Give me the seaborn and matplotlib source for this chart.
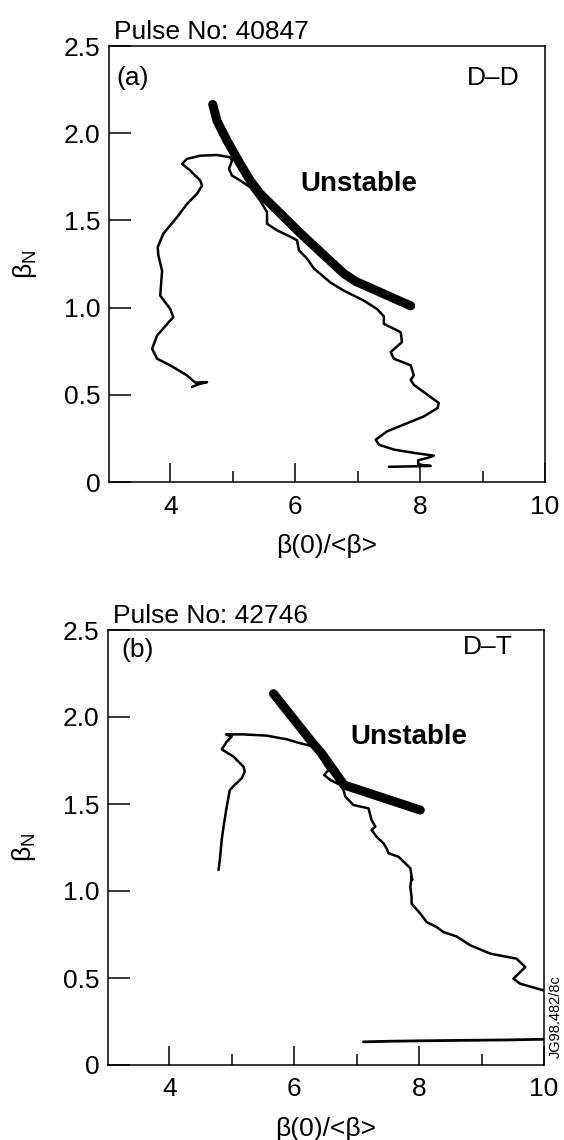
import matplotlib
matplotlib.use("Agg")
import matplotlib.pyplot as plt
import seaborn as sns
import pandas as pd
from matplotlib.ticker import FixedLocator, FixedFormatter

# ---------------- data ----------------
# Panel (a) Pulse 40847, D-D : trajectory beta(0)/<beta> vs beta_N
a_traj_x = [7.50, 8.17, 7.97, 7.97, 8.12, 8.22, 7.90, 7.58, 7.34, 7.29, 7.47, 7.80, 8.06, 8.28,
            8.30, 8.12, 7.90, 7.85, 7.90, 7.85, 7.58, 7.53, 7.71, 7.69, 7.42, 7.42, 7.31, 7.10,
            6.78, 6.56, 6.46, 6.30, 6.19, 6.06, 6.03, 5.93, 5.71, 5.55, 5.55, 5.44, 5.28, 5.12,
            4.99, 4.94, 4.99, 4.96, 4.75, 4.48, 4.27, 4.19, 4.32, 4.48, 4.51, 4.43, 4.27, 4.11,
            3.89, 3.80, 3.81, 3.87, 3.84, 4.00, 4.05, 4.00, 3.79, 3.71, 3.79, 4.00, 4.27, 4.40,
            4.59, 4.45, 4.35]
a_traj_y = [0.087, 0.092, 0.100, 0.125, 0.138, 0.151, 0.167, 0.186, 0.214, 0.243, 0.290, 0.338,
            0.376, 0.424, 0.453, 0.500, 0.557, 0.586, 0.611, 0.669, 0.707, 0.745, 0.802, 0.859,
            0.907, 0.950, 0.992, 1.040, 1.097, 1.145, 1.176, 1.224, 1.281, 1.329, 1.386, 1.405,
            1.443, 1.481, 1.547, 1.614, 1.690, 1.729, 1.757, 1.795, 1.843, 1.862, 1.875, 1.871,
            1.853, 1.824, 1.786, 1.729, 1.700, 1.653, 1.595, 1.519, 1.424, 1.347, 1.300, 1.211,
            1.069, 0.992, 0.945, 0.926, 0.840, 0.764, 0.707, 0.669, 0.611, 0.570, 0.573, 0.560,
            0.545]
a_limit_x = [4.68, 4.75, 4.91, 5.12, 5.28, 5.44, 5.66, 6.09, 6.78, 6.97, 7.85]
a_limit_y = [2.165, 2.070, 1.957, 1.824, 1.729, 1.653, 1.576, 1.424, 1.195, 1.150, 1.010]

# Panel (b) Pulse 42746, D-T
b_traj_x = [4.79, 4.81, 4.84, 4.87, 4.92, 4.97, 5.03, 5.16, 5.21, 5.19, 5.03, 4.84, 4.92, 5.00,
            4.91, 5.19, 5.56, 5.88, 6.10, 6.31, 6.55, 6.48, 6.58, 6.74, 6.79, 6.82, 6.95, 7.19,
            7.24, 7.30, 7.24, 7.32, 7.43, 7.48, 7.51, 7.67, 7.78, 7.86, 7.89, 7.88, 7.86, 7.88,
            7.88, 8.02, 8.12, 8.28, 8.39, 8.60, 8.82, 9.14, 9.56, 9.70, 9.51, 9.62, 9.99]
b_traj_y = [1.121, 1.178, 1.293, 1.370, 1.484, 1.580, 1.603, 1.648, 1.686, 1.714, 1.772, 1.814,
            1.858, 1.887, 1.900, 1.900, 1.893, 1.872, 1.849, 1.830, 1.695, 1.667, 1.638, 1.609,
            1.580, 1.542, 1.494, 1.475, 1.408, 1.370, 1.351, 1.312, 1.274, 1.245, 1.217, 1.197,
            1.159, 1.131, 1.063, 1.080, 1.023, 0.966, 0.927, 0.870, 0.822, 0.793, 0.764, 0.739,
            0.688, 0.640, 0.611, 0.563, 0.496, 0.467, 0.429]
b_start_x = [7.11, 7.60, 8.50, 9.40, 10.0]
b_start_y = [0.133, 0.137, 0.141, 0.144, 0.148]
b_limit_x = [5.67, 6.30, 6.44, 6.80, 8.02]
b_limit_y = [2.134, 1.849, 1.791, 1.609, 1.465]

x_major = [4, 6, 8, 10]
x_minor = [5, 7, 9]
y_ticks = [0, 0.5, 1.0, 1.5, 2.0, 2.5]
y_labels = ["0", "0.5", "1.0", "1.5", "2.0", "2.5"]

panels = [
    dict(traj=(a_traj_x, a_traj_y), extra=None, limit=(a_limit_x, a_limit_y),
         pulse="Pulse No: 40847", tag="(a)", tag_xy=(3.14, 2.317), gas="D\u2013D",
         gas_xy=(8.745, 2.317), unst_xy=(6.085, 1.71),
         rect=[109/564, (1140-482)/1140, 436/564, 436/1140]),
    dict(traj=(b_traj_x, b_traj_y), extra=(b_start_x, b_start_y), limit=(b_limit_x, b_limit_y),
         pulse="Pulse No: 42746", tag="(b)", tag_xy=(3.24, 2.385), gas="D\u2013T",
         gas_xy=(8.707, 2.40), unst_xy=(6.896, 1.885),
         rect=[108/564, (1140-1065)/1140, 436/564, 435/1140]),
]

# ---------------- style ----------------
sns.set_theme(style="white")
plt.rcParams['font.family'] = ['Liberation Sans', 'DejaVu Sans']
plt.rcParams['mathtext.fontset'] = 'custom'
plt.rcParams['mathtext.rm'] = 'Liberation Sans'
plt.rcParams['mathtext.it'] = 'Liberation Sans:italic'
for k in ['text.color', 'axes.labelcolor', 'xtick.color', 'ytick.color', 'axes.edgecolor']:
    plt.rcParams[k] = 'black'

FS = 19
fig = plt.figure(figsize=(5.64, 11.4), dpi=100)
fig.patch.set_facecolor("white")

for p in panels:
    ax = fig.add_axes(p["rect"])
    tx, ty = p["traj"]
    df = pd.DataFrame({"x": tx, "y": ty})
    sns.lineplot(data=df, x="x", y="y", sort=False, estimator=None, color="black",
                 lw=1.8, ax=ax)
    if p["extra"] is not None:
        ex, ey = p["extra"]
        sns.lineplot(x=ex, y=ey, sort=False, estimator=None, color="black", lw=2.0, ax=ax)
    lx, ly = p["limit"]
    sns.lineplot(x=lx, y=ly, sort=False, estimator=None, color="black", lw=6.5,
                 solid_capstyle="round", solid_joinstyle="round", ax=ax)

    ax.set_xlim(3.02, 10.0)
    ax.set_ylim(0, 2.5)
    ax.xaxis.set_major_locator(FixedLocator(x_major))
    ax.xaxis.set_minor_locator(FixedLocator(x_minor))
    ax.yaxis.set_major_locator(FixedLocator(y_ticks))
    ax.yaxis.set_major_formatter(FixedFormatter(y_labels))
    ax.tick_params(axis="x", which="major", direction="in", length=13.7, width=1.1,
                   color="black", labelcolor="black", labelsize=FS, pad=9, bottom=True)
    ax.tick_params(axis="x", which="minor", direction="in", length=8, width=1.1,
                   color="black", bottom=True)
    ax.tick_params(axis="y", which="major", direction="in", length=16, width=1.1,
                   color="black", labelcolor="black", labelsize=FS, pad=6, left=True)
    for s in ax.spines.values():
        s.set_visible(True)
        s.set_color("black")
        s.set_linewidth(1.1)

    ax.set_xlabel("\u03b2(0)/<\u03b2>", fontsize=FS, labelpad=11, color="black")
    ax.set_ylabel("\u03b2$_\\mathrm{N}$", fontsize=FS, color="black")
    ax.yaxis.set_label_coords(-0.16, 0.5)

    ax.text(0.012, 1.017, p["pulse"], transform=ax.transAxes, fontsize=FS,
            ha="left", va="baseline", color="black")
    ax.text(p["tag_xy"][0], p["tag_xy"][1], p["tag"], fontsize=FS, ha="left", va="center",
            color="black")
    ax.text(p["gas_xy"][0], p["gas_xy"][1], p["gas"], fontsize=FS, ha="left", va="center",
            color="black")
    ax.text(p["unst_xy"][0], p["unst_xy"][1], "Unstable", fontsize=20, fontweight="bold",
            ha="left", va="center", color="black")

fig.text(0.986, (1140-1017)/1140, "JG98.482/8c", rotation=90, fontsize=10.5,
         ha="center", va="center", color="black")

fig.savefig("out.png", dpi=100, facecolor="white")
